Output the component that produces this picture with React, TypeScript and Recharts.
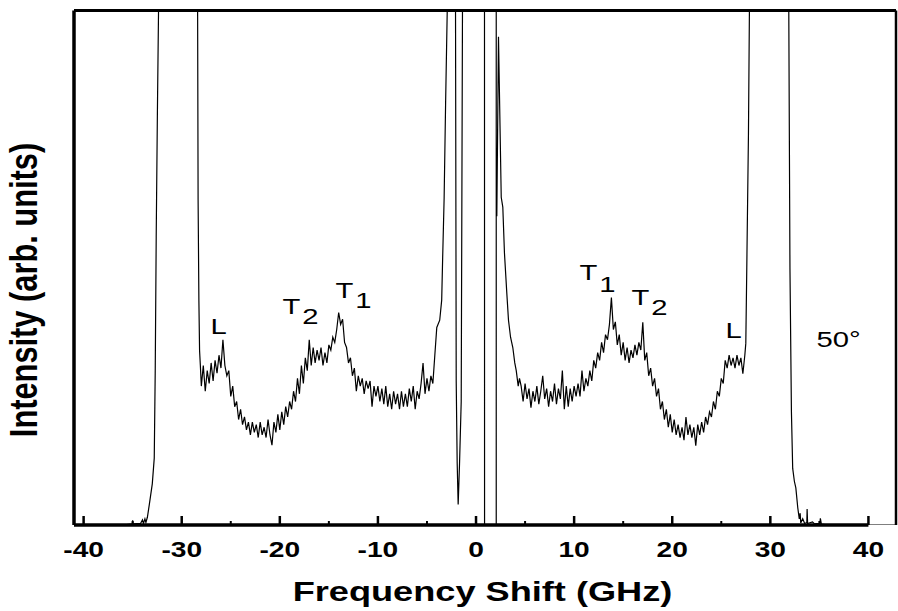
import React from 'react';
import { LineChart, Line, XAxis, YAxis, ReferenceLine, ReferenceDot } from 'recharts';

// frequency window (GHz) and intensity window (arb. units)
const X_MIN = -40.98;
const X_MAX = 42.81;
const Y_TOP = 100;
const OFF = 150; // saturated, drawn above the frame and clipped

const majorTicks = [-40, -30, -20, -10, 0, 10, 20, 30, 40];
const minorTicks = [-35, -25, -15, -5, 5, 15, 25, 35];

// [shift GHz, intensity]
const antiStokesGhost = [
  [-40.98, 0], [-36, 0], [-35.05, 0.2], [-35.0, 0.9], [-34.95, 0.2], [-34.2, 0.3],
  [-34.0, 1.0], [-33.9, 0.3], [-33.75, 1.2], [-33.65, 0.5], [-33.5, 1.5], [-33.3, 4],
  [-33.0, 8], [-32.8, 13], [-32.7, 30], [-32.6, 56], [-32.48, 80], [-32.36, 100.5],
  [-32.0, OFF], [-29.0, OFF], [-28.38, 100.5], [-28.33, 63.2], [-28.25, 43.7],
  [-28.18, 33.9], [-28.1, 31],
];

// anti-Stokes side, sampled every 0.2 GHz from -28.0
const antiStokesStart = -28.0;
const antiStokesNoise = [
  27, 31, 26, 30, 27.5, 31.5, 28, 32, 29.5, 33, 30.5, 36, 31, 29, 30, 25, 27, 23, 24, 20.5,
  22.5, 19.5, 21, 18.5, 20, 17.5, 20, 18, 19.5, 17, 20, 17.5, 19, 17, 20.5, 17.5, 15.5, 20, 18, 21.5,
  18.5, 22, 19.5, 23, 21, 24, 22.5, 26, 24, 28.5, 25.5, 31, 27.5, 32.5, 30, 36, 31, 34.5, 31.5, 34,
  32, 34.5, 31, 33.5, 31.5, 35, 34, 36.5, 35.5, 38, 41.3, 39, 40, 35.5, 34.5, 31.5, 32.5, 29, 30.5, 26,
  29, 27, 28.5, 25.5, 28, 26.5, 28, 23, 27, 25, 27, 24, 26.5, 23.5, 27, 23, 25.5, 22.5, 26, 23.5,
  25.5, 22.5, 26, 23, 25.5, 23, 26.5, 24, 27, 22.5, 26, 24.5, 27.5, 31.5, 25.5, 28.5, 26, 29, 27.5,
];

const laserLeft = [
  [-4.2, 33], [-4.0, 38.4], [-3.7, 39.8], [-3.5, 43.7], [-3.4, 52], [-3.25, 63.6], [-3.1, 82],
  [-2.93, 100.5], [-2.7, OFF], [-2.3, OFF], [-2.09, 100.5], [-2.02, 28], [-1.92, 12], [-1.82, 4],
  [-1.68, 12], [-1.51, 24], [-1.38, 100.5], [-1.2, OFF],
];

const shutterRight = [[0.86, OFF], [0.87, 0], [2.06, 0], [2.06, OFF]];

const stokesEdge = [
  [2.12, 60], [2.29, 94.9], [2.57, 63.7], [2.73, 61.8], [2.9, 52.8], [3.14, 45], [3.31, 39.8],
  [3.52, 36.5], [3.75, 34.5], [3.95, 31.5], [4.1, 30], [4.3, 27], [4.43, 28.5],
];

// Stokes side, sampled every 0.2 GHz from 4.6
const stokesStart = 4.6;
const stokesNoise = [
  27, 24, 27.5, 24.5, 26.5, 22.8, 26, 24, 27, 23.5, 26, 29, 24.5, 26.5, 23, 26, 24, 27.5, 23.5, 26.5,
  24.5, 30, 22.5, 27, 23, 26.5, 24, 27, 25, 27.5, 25, 30, 26, 28.5, 27, 30, 28, 32, 30.5, 33.5,
  32, 35.5, 33.5, 37, 36, 39, 44.2, 38, 39.5, 35, 37, 33, 35.5, 32, 34.5, 31.5, 34, 32.5, 35, 33,
  35.5, 34, 39.4, 32, 33.5, 29, 30.5, 27, 28.5, 25, 26.5, 22.5, 24, 20.5, 22.5, 19, 21.5, 18, 20.5, 17.5,
  19.5, 17, 19, 16.5, 21, 17.5, 19.5, 17, 19, 15.4, 19.5, 17.5, 20, 18, 21, 19.5, 22, 21, 24, 22.5,
  26, 25, 28.5, 27.5, 32, 30.5, 33, 31, 32.5, 30.5, 33, 31, 32.5, 29.4, 33,
];

const stokesGhost = [
  [27.5, 35.3], [27.6, 50], [27.77, 76], [27.87, 100.5], [28.2, OFF], [31.5, OFF], [31.88, 100.5],
  [32.0, 50], [32.15, 22], [32.28, 11], [32.45, 8.5], [32.6, 7.2], [32.8, 3.3], [32.95, 1.2],
  [33.04, 2.3], [33.1, 0.4], [33.3, 1.2], [33.5, 0.3], [33.72, 0.5], [33.75, 3.1], [33.8, 0.3],
  [34.3, 0.6], [34.5, 0.2], [35.05, 0.3], [35.1, 1.3], [35.2, 0.2], [36, 0], [X_MAX, 0],
];

const peakLabels = [
  { f: -27.06, v: 37.2, main: 'L', sub: '', drop: 0 },
  { f: -19.72, v: 41.1, main: 'T', sub: '2', drop: 10 },
  { f: -14.32, v: 44.05, main: 'T', sub: '1', drop: 10 },
  { f: 10.55, v: 47.56, main: 'T', sub: '1', drop: 12 },
  { f: 15.85, v: 42.69, main: 'T', sub: '2', drop: 10 },
  { f: 25.43, v: 36.26, main: 'L', sub: '', drop: 0 },
  { f: 34.7, v: 34.5, main: '50°', sub: '', drop: 0 },
];

const pts = (pairs: number[][]) => pairs.map(([f, v]) => ({ f, v }));
const sampled = (start: number, vals: number[]) =>
  vals.map((v, i) => ({ f: +(start + i * 0.2).toFixed(2), v }));

const data = [
  ...pts(antiStokesGhost),
  ...sampled(antiStokesStart, antiStokesNoise),
  ...pts(laserLeft),
  { f: -0.2, v: null },
  ...pts(shutterRight),
  { f: 2.09, v: null },
  ...pts(stokesEdge),
  ...sampled(stokesStart, stokesNoise),
  ...pts(stokesGhost),
];

const FONT = '"Liberation Sans", Arial, sans-serif';

const FreqTick = (props: any) => {
  const { x, y, payload } = props;
  const major = payload.value % 10 === 0;
  return (
    <g>
      <line x1={x} x2={x} y1={y} y2={y - (major ? 9 : 4)} stroke="#000" strokeWidth={major ? 2.5 : 2} />
      {major && (
        <text
          transform={`translate(${x},${y + 31.5}) scale(1.28,1)`}
          textAnchor="middle"
          fontFamily={FONT}
          fontWeight="bold"
          fontSize={22}
          fill="#000"
        >
          {payload.value}
        </text>
      )}
    </g>
  );
};

const PeakTag = ({ viewBox, main, sub, drop }: any) => (
  <text
    transform={`translate(${viewBox.x},${viewBox.y}) scale(1.3,1)`}
    fontFamily={FONT}
    fontSize={22.5}
    fill="#000"
  >
    {main}
    {sub && (
      <tspan dx={1.5} dy={drop}>
        {sub}
      </tspan>
    )}
  </text>
);

export default function App() {
  return (
    <div style={{ position: 'absolute', left: 0, top: 0, background: '#fff' }}>
      <LineChart width={898} height={611} data={data} margin={{ top: 10.5, right: 2, bottom: 0, left: 0 }}>
        <XAxis
          dataKey="f"
          type="number"
          domain={[X_MIN, X_MAX]}
          allowDataOverflow
          ticks={[...majorTicks, ...minorTicks].sort((a, b) => a - b)}
          interval={0}
          axisLine={false}
          tickLine={false}
          tickSize={0}
          tickMargin={0}
          height={86}
          tick={<FreqTick />}
          label={(p: any) => (
            <text
              transform={`translate(${p.viewBox.x + 408.5},${p.viewBox.y + 76}) scale(1.34,1)`}
              textAnchor="middle"
              fontFamily={FONT}
              fontWeight="bold"
              fontSize={27}
              fill="#000"
            >
              Frequency Shift (GHz)
            </text>
          )}
        />
        <YAxis
          type="number"
          domain={[0, Y_TOP]}
          allowDataOverflow
          width={74}
          tick={false}
          tickLine={false}
          axisLine={{ stroke: '#000', strokeWidth: 3.5 }}
          label={(p: any) => (
            <text
              transform={`translate(${p.viewBox.x + 37},${p.viewBox.y + 279.5}) rotate(-90) scale(1,1.24)`}
              textAnchor="middle"
              fontFamily={FONT}
              fontWeight="bold"
              fontSize={30.8}
              fill="#000"
            >
              Intensity (arb. units)
            </text>
          )}
        />
        <Line
          type="linear"
          dataKey="v"
          stroke="#000"
          strokeWidth={1.2}
          dot={false}
          connectNulls={false}
          isAnimationActive={false}
        />
        <ReferenceLine y={Y_TOP} stroke="#000" strokeWidth={3} />
        <ReferenceLine x={X_MAX} stroke="#000" strokeWidth={2.5} />
        <ReferenceLine
          segment={[{ x: X_MIN, y: 0 }, { x: 40, y: 0 }]}
          stroke="#000"
          strokeWidth={3.5}
        />
        {peakLabels.map((t, i) => (
          <ReferenceDot
            key={i}
            x={t.f}
            y={t.v}
            r={0}
            fill="none"
            stroke="none"
            label={(p: any) => <PeakTag viewBox={p.viewBox} main={t.main} sub={t.sub} drop={t.drop} />}
          />
        ))}
      </LineChart>
    </div>
  );
}
